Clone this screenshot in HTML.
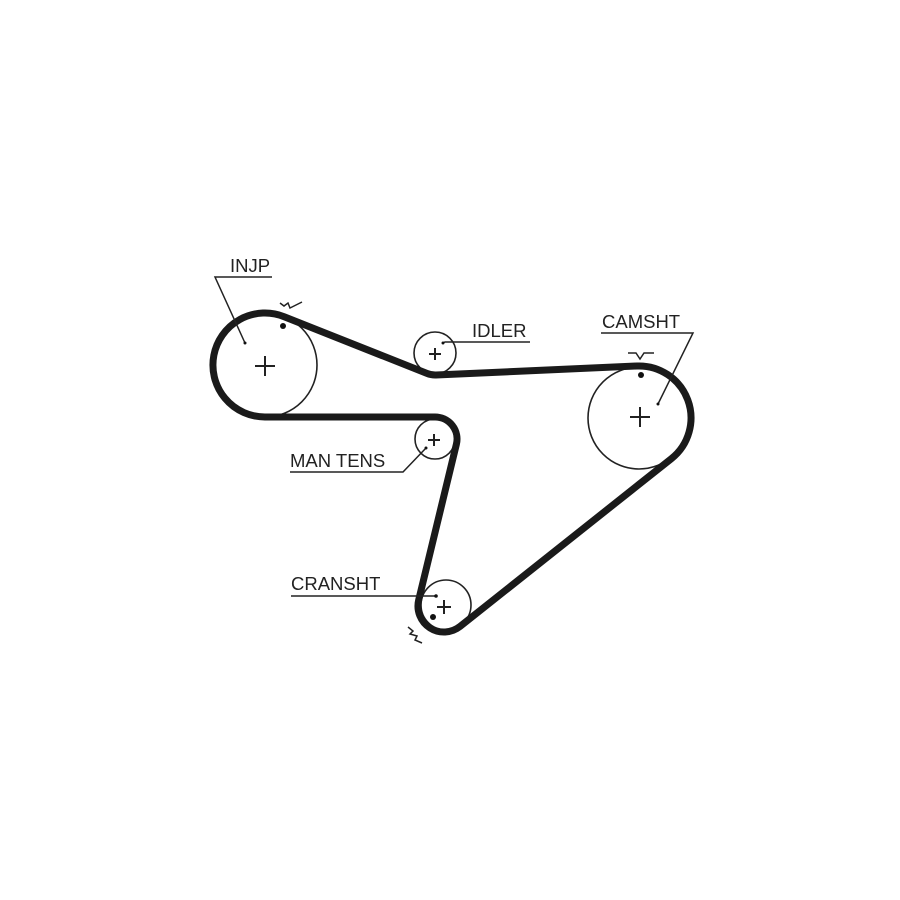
<!DOCTYPE html>
<html><head><style>body{margin:0;background:#fff}svg{display:block}text{font-family:"Liberation Sans",sans-serif;font-size:18.5px;fill:#222}</style></head>
<body>
<svg width="900" height="900" viewBox="0 0 900 900">
<g fill="none" stroke="#222" stroke-width="1.6">
<circle cx="265" cy="365" r="52"/>
<circle cx="435" cy="353" r="21"/>
<circle cx="435" cy="439" r="20"/>
<circle cx="639" cy="418" r="51"/>
<circle cx="446" cy="605" r="25"/>
</g>
<path d="M284.2 316.7 L426.9 373.4 A22 22 0 0 0 436 375 L636.7 366 A52 52 0 0 1 671.3 458.7 L460.1 626.4 A26 26 0 0 1 418.7 599.9 L456.4 444.2 A22 22 0 0 0 435 417 L265 417 A52 52 0 1 1 284.2 316.7 Z" fill="none" stroke="#1a1a1a" stroke-width="7" stroke-linejoin="round"/>
<g stroke="#222" stroke-width="2" fill="none">
<path d="M255 366h20M265 356v20"/>
<path d="M429 354h12M435 348v12"/>
<path d="M428 440h12M434 434v12"/>
<path d="M630 417h20M640 407v20"/>
<path d="M437 607h14M444 600v14"/>
</g>
<g stroke="#222" stroke-width="1.5" fill="none">
<path d="M272 277H215L245 343"/>
<path d="M530 342H445L443 343"/>
<path d="M601 333H693L658 404"/>
<path d="M290 472H403L426 448"/>
<path d="M291 596H436"/>
<path d="M280 303l4 3 4-3 2 5 12-6"/>
<path d="M628 353h8l4 6 4-6h10"/>
<path d="M408 627l5 4-3 3 7 2 -2 4 7 3"/>
</g>
<g fill="#111">
<circle cx="283" cy="326" r="3"/>
<circle cx="641" cy="375" r="3"/>
<circle cx="433" cy="617" r="3"/>
<circle cx="245" cy="343" r="1.5"/>
<circle cx="443" cy="343" r="1.5"/>
<circle cx="658" cy="404" r="1.5"/>
<circle cx="426" cy="448" r="1.5"/>
<circle cx="436" cy="596" r="1.8"/>
</g>
<text x="230" y="272">INJP</text>
<text x="472" y="337">IDLER</text>
<text x="602" y="328">CAMSHT</text>
<text x="290" y="467">MAN TENS</text>
<text x="291" y="590">CRANSHT</text>
</svg>
</body></html>
